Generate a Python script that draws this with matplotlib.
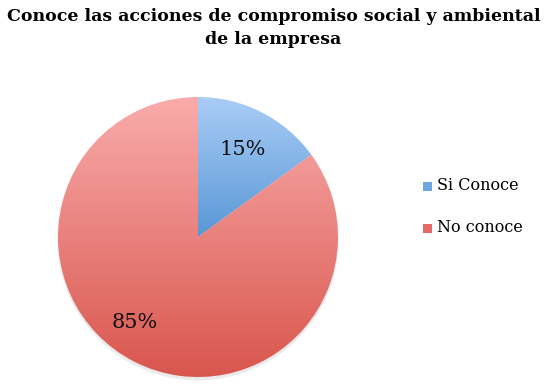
import numpy as np
import matplotlib
matplotlib.use("Agg")
import matplotlib.pyplot as plt
from matplotlib.colors import LinearSegmentedColormap
from matplotlib.patches import Circle, Rectangle

# data
labels = ["Si Conoce", "No conoce"]
values = [15, 85]
pct_text = ["15%", "85%"]
title = "Conoce las acciones de compromiso social y ambiental\nde la empresa"

# gradient ends (top, bottom) per slice
grad_top = ["#aacdf7", "#f9acab"]
grad_bot = ["#5897d6", "#d9564e"]
legend_col = ["#6fa6e2", "#e46a66"]

plt.rcParams["font.family"] = ["DejaVu Serif"]

W, H = 547, 385
fig = plt.figure(figsize=(W / 100, H / 100), dpi=100)
fig.patch.set_facecolor("white")

cx, cy, r = 198, 237, 140
ax = fig.add_axes([(cx - r) / W, (H - cy - r) / H, 2 * r / W, 2 * r / H])
ax.set_xlim(-1, 1)
ax.set_ylim(-1, 1)
ax.set_aspect("equal")
ax.axis("off")

# soft shadow
for i, a in enumerate([0.05, 0.05, 0.06]):
    ax.add_patch(Circle((0.0, -0.012 - 0.008 * i), 1.0 + 0.004 * (2 - i),
                        facecolor="#808080", edgecolor="none", alpha=a,
                        zorder=0, clip_on=False))

wedges, _ = ax.pie(values, startangle=90, counterclock=False, radius=1.0,
                   wedgeprops=dict(linewidth=0, edgecolor="none"))

for w, top, bot in zip(wedges, grad_top, grad_bot):
    w.set_facecolor("none")
    w.set_zorder(2)
    ext = w.get_path().get_extents()
    cmap = LinearSegmentedColormap.from_list("g", [bot, top])
    grad = np.linspace(0, 1, 256).reshape(-1, 1)
    im = ax.imshow(grad, cmap=cmap, origin="lower", aspect="auto",
                   extent=[ext.x0, ext.x1, ext.y0, ext.y1], zorder=1,
                   interpolation="bilinear")
    im.set_clip_path(w)

ax.set_xlim(-1, 1)
ax.set_ylim(-1, 1)

# percentage labels (label radius and angle nudge per slice, as placed in the original)
lab_r = [0.70, 0.76]
lab_nudge = [0.0, 9.5]
start = 90.0
total = sum(values)
for v, t, lr, nd in zip(values, pct_text, lab_r, lab_nudge):
    span = 360.0 * v / total
    a = np.deg2rad(start - span / 2 - nd)
    start -= span
    ax.text(lr * np.cos(a), lr * np.sin(a), t, ha="center", va="center",
            fontsize=15, color="#111111", zorder=5)

fig.text(0.5, 1 - 28 / H, title, ha="center", va="center", fontsize=12.5,
         fontweight="bold", linespacing=1.45)

# legend
for i, (lab, c) in enumerate(zip(labels, legend_col)):
    y = 186 + 42 * i
    fig.patches.append(Rectangle(((423) / W, (H - y - 5) / H), 9 / W, 9 / H,
                                 transform=fig.transFigure, facecolor=c,
                                 edgecolor="none"))
    fig.text(437 / W, 1 - y / H, lab, ha="left", va="center", fontsize=11.5)

fig.savefig("out.png", dpi=100)
